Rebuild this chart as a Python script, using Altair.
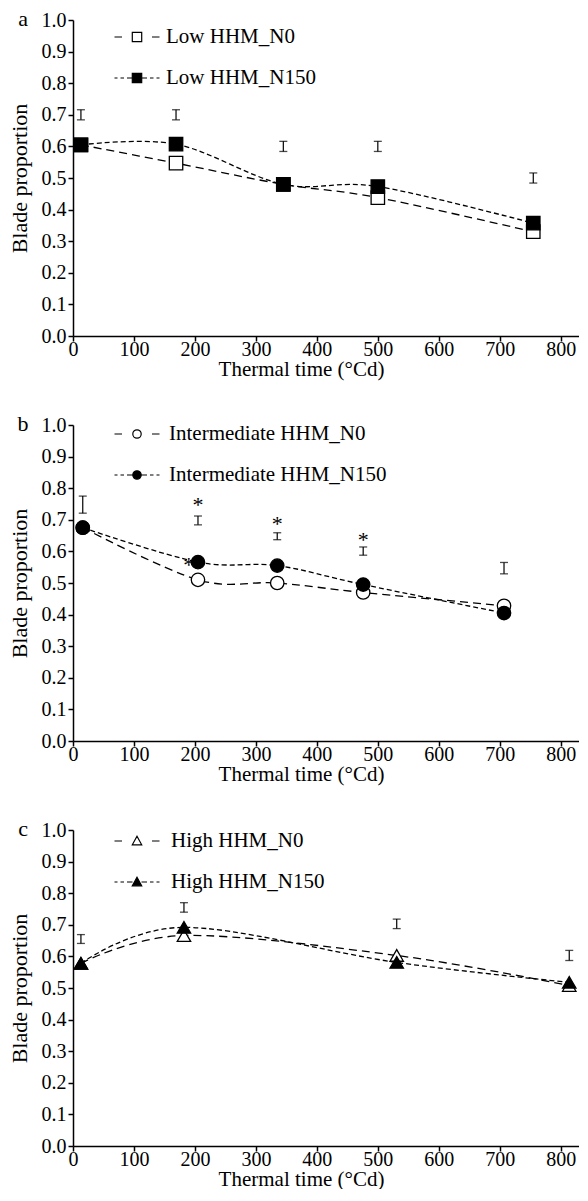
import altair as alt
import pandas as pd

FONT = "Liberation Serif"
XMAX = 830

# ---------------- panel a : Low HHM ----------------
a_names = ["Low HHM_N0", "Low HHM_N150"]
a_x = [13, 169, 345, 500, 755]
a_n0 = [0.605, 0.547, 0.480, 0.438, 0.330]
a_n150 = [0.605, 0.607, 0.480, 0.473, 0.357]
a_bar_mid = [0.700, 0.700, 0.600, 0.600, 0.500]
a_bar_half = [0.016, 0.016, 0.016, 0.016, 0.016]

# ---------------- panel b : Intermediate HHM ----------------
b_names = ["Intermediate HHM_N0", "Intermediate HHM_N150"]
b_x = [16, 205, 335, 476, 707]
b_n0 = [0.675, 0.510, 0.500, 0.470, 0.428]
b_n150 = [0.675, 0.566, 0.555, 0.495, 0.405]
b_bar_mid = [0.748, 0.698, 0.648, 0.601, 0.547]
b_bar_half = [0.027, 0.014, 0.011, 0.013, 0.018]
b_star_x = [205, 335, 476, 190]
b_star_y = [0.76, 0.70, 0.65, 0.57]

# ---------------- panel c : High HHM ----------------
c_names = ["High HHM_N0", "High HHM_N150"]
c_x = [13, 182, 531, 814]
c_n0 = [0.578, 0.666, 0.603, 0.508]
c_n150 = [0.578, 0.692, 0.581, 0.518]
c_bar_mid = [0.655, 0.755, 0.703, 0.603]
c_bar_half = [0.014, 0.015, 0.015, 0.016]

x_ticks = [0, 100, 200, 300, 400, 500, 600, 700, 800]
y_ticks = [0.0, 0.1, 0.2, 0.3, 0.4, 0.5, 0.6, 0.7, 0.8, 0.9, 1.0]

# legend symbol paths (unit box), dashes + marker
LONG_DASH = "M-2.25,0H-1.5M1.5,0H2.25"
SHORT_DASH = "M-2.25,0H-1.95M-1.65,0H-1.3M-1.0,0H-0.45M0.45,0H1.0M1.3,0H1.65M1.95,0H2.25"
SQ = "M-0.47,-0.47H0.47V0.47H-0.47Z"
CI = "M-0.42,0A0.42,0.42 0 1,0 0.42,0A0.42,0.42 0 1,0 -0.42,0Z"
TR = "M0,-0.47L0.47,0.38L-0.47,0.38Z"


def xenc(field):
    return alt.X(f"{field}:Q", scale=alt.Scale(domain=[0, XMAX], nice=False, zero=False),
                 axis=alt.Axis(values=x_ticks, title="Thermal time (°Cd)", labelFlush=False,
                               labelOverlap=False, titleX=228, titleAlign="center",
                               labelFont=FONT, titleFont=FONT, labelFontSize=20,
                               titleFontSize=21, labelPadding=-2, titlePadding=-1))


def yenc(field):
    return alt.Y(f"{field}:Q", scale=alt.Scale(domain=[0, 1], nice=False, zero=False),
                 axis=alt.Axis(values=y_ticks, format=".1f", title="Blade proportion",
                               labelFlush=False, labelOverlap=False, labelFont=FONT,
                               titleFont=FONT, labelFontSize=20, titleFontSize=22,
                               titlePadding=10))


def panel(letter, names, xs, n0, n150, bar_mid, bar_half, shape, shape_path, legend_y,
          label_offset, star_x=None, star_y=None):
    df = pd.DataFrame({
        "t": xs + xs,
        "v": n0 + n150,
        "s": [names[0]] * len(xs) + [names[1]] * len(xs),
    })
    bars = pd.DataFrame({
        "t": xs,
        "lo": [m - h for m, h in zip(bar_mid, bar_half)],
        "hi": [m + h for m, h in zip(bar_mid, bar_half)],
    })
    base = alt.Chart(df)
    dash_scale = alt.Scale(domain=names, range=[[8, 5], [5, 3]])
    fill_scale = alt.Scale(domain=names, range=["white", "black"])
    lines = base.mark_line(interpolate="cardinal", color="black", strokeWidth=1.3).encode(
        x=xenc("t"), y=yenc("v"),
        strokeDash=alt.StrokeDash("s:N", scale=dash_scale, legend=None),
        detail="s:N",
    )
    pts = base.mark_point(shape=shape, filled=True, stroke="black", strokeWidth=1.3,
                          size=180, opacity=1).encode(
        x=xenc("t"), y=yenc("v"),
        fill=alt.Fill("s:N", scale=fill_scale, legend=None),
    )
    leg_def = alt.Legend(orient="none", legendX=53, legendY=legend_y, title=None,
                         labelFont=FONT, labelFontSize=21, labelColor="black",
                         labelOffset=label_offset, rowPadding=20, labelLimit=400,
                         symbolSize=400, symbolStrokeColor="black", symbolStrokeWidth=1.2,
                         padding=0)
    leg = base.transform_filter("false").mark_point(filled=True, stroke="black",
                                                     strokeWidth=1.2, size=400,
                                                     opacity=1).encode(
        x=xenc("t"), y=yenc("v"),
        shape=alt.Shape("s:N", scale=alt.Scale(domain=names,
                                                range=[LONG_DASH + shape_path,
                                                       SHORT_DASH + shape_path]),
                        legend=leg_def),
        fill=alt.Fill("s:N", scale=fill_scale, legend=leg_def),
        stroke=alt.Stroke("s:N", scale=alt.Scale(domain=names, range=["black", "black"]),
                          legend=leg_def),
    )
    bb = alt.Chart(bars)
    rule = bb.mark_rule(color="black", strokeWidth=1.2).encode(
        x=xenc("t"), y=yenc("lo"), y2="hi:Q")
    cap_lo = bb.mark_tick(color="black", orient="horizontal", size=8, thickness=1.3).encode(
        x=xenc("t"), y=yenc("lo"))
    cap_hi = bb.mark_tick(color="black", orient="horizontal", size=8, thickness=1.3).encode(
        x=xenc("t"), y=yenc("hi"))
    lab = alt.Chart(pd.DataFrame({"lab": [letter]})).mark_text(
        font=FONT, fontSize=22, align="center", baseline="alphabetic", color="black"
    ).encode(x=alt.value(-50), y=alt.value(6), text="lab:N")
    layers = [lines, rule, cap_lo, cap_hi, pts, leg, lab]
    if star_x is not None:
        stars = alt.Chart(pd.DataFrame({"t": star_x, "v": star_y})).mark_text(
            text="*", font=FONT, fontSize=22, align="center", baseline="middle",
            color="black", dy=4
        ).encode(x=xenc("t"), y=yenc("v"))
        layers.append(stars)
    return alt.layer(*layers).resolve_scale(
        fill="independent", shape="independent", stroke="independent"
    ).properties(width=round(XMAX * 0.61), height=316)


pa = panel("a", a_names, a_x, a_n0, a_n150, a_bar_mid, a_bar_half, "square", SQ, 6, 18)
pb = panel("b", b_names, b_x, b_n0, b_n150, b_bar_mid, b_bar_half, "circle", CI, -2, 21,
           b_star_x, b_star_y)
pc = panel("c", c_names, c_x, c_n0, c_n150, c_bar_mid, c_bar_half, "triangle-up", TR, 0, 23)

chart = alt.vconcat(
    pa, pb, pc, spacing=89, bounds="flush",
    padding={"top": 0, "left": 0, "right": 0, "bottom": 0}
).configure(font=FONT).configure_view(
    stroke=None
).configure_axis(
    domainColor="black", domainWidth=1.5, tickColor="black", tickWidth=1.5, tickSize=5,
    labelFont=FONT, labelFontSize=20, labelColor="black",
    titleFont=FONT, titleFontSize=21, titleFontWeight="normal", titleColor="black",
    grid=False,
).configure_legend(labelFont=FONT)

chart.save("out.html", embed_options={"renderer": "svg", "actions": False})
